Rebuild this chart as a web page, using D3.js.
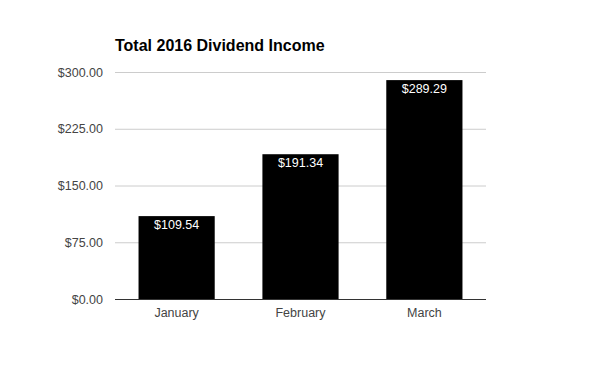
<!DOCTYPE html>
<html lang="en">
<head>
    <meta charset="UTF-8">
    <script src="https://d3js.org/d3.v7.min.js"></script>
    <title>Total 2016 Dividend Income</title>
    <style>
        body { margin: 0; background: #fff; }
        svg text { font-family: "Liberation Sans", Arial, sans-serif; }
        .title { font-size: 16px; font-weight: bold; fill: #000; }
        .tick text { font-size: 12.5px; fill: #444; }
        .value { font-size: 12.5px; fill: #fff; text-anchor: middle; }
    </style>
</head>
<body>
    <div id="chart"></div>
    <script>
        // chart data
        var months = ["January", "February", "March"];
        var income = [109.54, 191.34, 289.29];
        var yTicks = [0, 75, 150, 225, 300];

        var width = 600,
            height = 371,
            plotLeft = 115,
            plotRight = 486,
            plotTop = 72,
            plotBottom = 299;

        var svg = d3.select("#chart")
            .append("svg")
            .attr("width", width)
            .attr("height", height);

        var x = d3.scaleBand()
            .domain(months)
            .range([plotLeft, plotRight])
            .paddingInner(0.385)
            .paddingOuter(0.19);

        var y = d3.scaleLinear()
            .domain([0, 300])
            .range([plotBottom, plotTop]);

        // gridlines + y labels
        var yAxis = svg.append("g")
            .attr("transform", "translate(" + plotLeft + ",0)")
            .call(d3.axisLeft(y)
                .tickValues(yTicks)
                .tickSize(-(plotRight - plotLeft))
                .tickPadding(12)
                .tickFormat(function (d) { return "$" + d3.format(".2f")(d); }));
        yAxis.select(".domain").remove();
        yAxis.selectAll(".tick line")
            .attr("stroke", function (d) { return d === 0 ? "#333" : "#ccc"; });

        // bars
        svg.selectAll("rect.bar")
            .data(income)
            .enter()
            .append("rect")
            .attr("class", "bar")
            .attr("x", function (d, i) { return x(months[i]); })
            .attr("y", function (d) { return y(d); })
            .attr("width", x.bandwidth())
            .attr("height", function (d) { return y(0) - y(d); })
            .attr("fill", "#000");

        // baseline on top of bars
        svg.append("line")
            .attr("x1", plotLeft).attr("x2", plotRight)
            .attr("y1", y(0) + 0.5).attr("y2", y(0) + 0.5)
            .attr("stroke", "#333");

        // value labels
        svg.selectAll("text.value")
            .data(income)
            .enter()
            .append("text")
            .attr("class", "value")
            .attr("x", function (d, i) { return x(months[i]) + x.bandwidth() / 2; })
            .attr("y", function (d) { return y(d) + 13; })
            .text(function (d) { return "$" + d3.format(".2f")(d); });

        // x labels
        var xAxis = svg.append("g")
            .attr("transform", "translate(0," + plotBottom + ")")
            .call(d3.axisBottom(x).tickSize(0).tickPadding(9));
        xAxis.select(".domain").remove();

        // title
        svg.append("text")
            .attr("class", "title")
            .attr("x", plotLeft)
            .attr("y", 51)
            .text("Total 2016 Dividend Income");
    </script>
</body>
</html>
